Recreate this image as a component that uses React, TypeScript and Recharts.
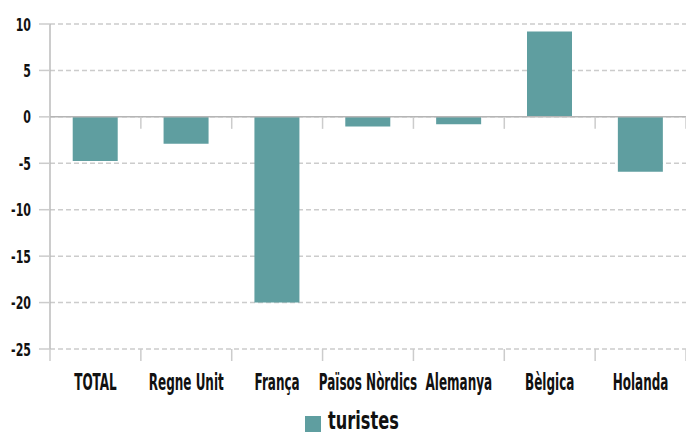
import React from 'react';
import { BarChart, Bar, XAxis, YAxis, CartesianGrid, ReferenceLine, Legend } from 'recharts';

const categories = ['TOTAL', 'Regne Unit', 'França', 'Països Nòrdics', 'Alemanya', 'Bèlgica', 'Holanda'];
const turistes = [-4.75, -2.9, -20, -1.05, -0.8, 9.2, -5.9];
const yTicks = [-25, -20, -15, -10, -5, 0, 5, 10];

const data = categories.map((name, i) => ({ name, turistes: turistes[i] }));

const FONT = '"DejaVu Sans Condensed", "DejaVu Sans", sans-serif';
const TEAL = '#5f9ea0';

const XTick = (props: any) => {
  const { x, y, payload } = props;
  return (
    <g transform={`translate(${x},${y})`}>
      <text transform="scale(0.58,1)" textAnchor="middle" dy={33} fontFamily={FONT} fontWeight="bold" fontSize={23} fill="#111">
        {payload.value}
      </text>
    </g>
  );
};

const YTick = (props: any) => {
  const { x, y, payload } = props;
  return (
    <g transform={`translate(${x},${y})`}>
      <text transform="scale(0.68,1)" textAnchor="end" dy={6.5} fontFamily={FONT} fontWeight="bold" fontSize={18} fill="#111">
        {payload.value}
      </text>
    </g>
  );
};

// line at zero with small tick marks on the category boundaries
const BoundaryTicks = (props: any) => {
  const { x1, x2, y1, withLine } = props;
  const n = categories.length;
  const step = (x2 - x1) / n;
  const marks = [];
  for (let i = 0; i <= n; i++) {
    if (withLine && i === 0) continue;
    const x = x1 + step * i;
    marks.push(<line key={i} x1={x} x2={x} y1={y1} y2={y1 + 12} stroke="#ccc" strokeWidth={1.5} />);
  }
  return (
    <g>
      {withLine && <line x1={x1} x2={x2} y1={y1} y2={y1} stroke="#b5b5b5" strokeWidth={1.5} />}
      {marks}
    </g>
  );
};

const LegendContent = () => (
  <div style={{ position: 'relative', height: 28, width: 686 }}>
    <span style={{ position: 'absolute', left: 305, top: 9, width: 16, height: 16, background: TEAL }} />
    <svg style={{ position: 'absolute', left: 328, top: 0, overflow: 'visible' }} width={120} height={28}>
      <text x={0} y={22} transform="scale(0.72,1)" fontFamily={FONT} fontWeight="bold" fontSize={25} fill="#111">
        turistes
      </text>
    </svg>
  </div>
);

export default function App() {
  return (
    <div style={{ position: 'absolute', left: 0, top: 0, background: '#fff' }}>
      <BarChart width={686} height={435} data={data} margin={{ top: 24, right: 0, left: 0, bottom: 0 }} barCategoryGap="25%">
        <CartesianGrid vertical={false} stroke="#ccc" strokeDasharray="5 3" strokeWidth={1.5} />
        <XAxis dataKey="name" axisLine={false} tickLine={false} tick={<XTick />} height={58} interval={0} />
        <YAxis
          domain={[-25, 10]}
          ticks={yTicks}
          width={50}
          tickSize={11}
          tickMargin={8}
          axisLine={{ stroke: '#bbb', strokeWidth: 1.5 }}
          tickLine={{ stroke: '#ccc', strokeWidth: 1.5 }}
          tick={<YTick />}
        />
        <ReferenceLine y={0} shape={(p: any) => <BoundaryTicks {...p} withLine />} />
        <ReferenceLine y={-25} shape={(p: any) => <BoundaryTicks {...p} />} />
        <Legend verticalAlign="bottom" content={<LegendContent />} wrapperStyle={{ left: 0, width: 686 }} />
        <Bar dataKey="turistes" fill={TEAL} isAnimationActive={false} />
      </BarChart>
    </div>
  );
}
